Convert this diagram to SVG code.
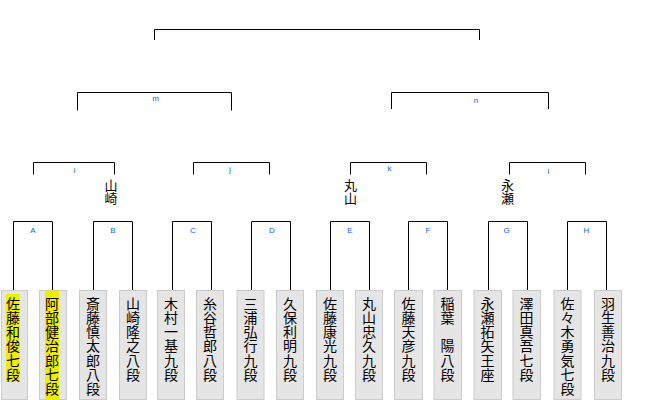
<svg xmlns="http://www.w3.org/2000/svg" width="660" height="400" viewBox="0 0 660 400">
<style>
.bg{fill:#ffffff}
.box{fill:#e5e5e5;stroke:#cccccc;stroke-width:1}
.hl{fill:#eeee00}
.name{font-family:"Noto Sans CJK JP","Noto Sans CJK SC",sans-serif;font-size:14px;fill:#000;text-anchor:middle}
.win{font-family:"Noto Sans CJK JP","Noto Sans CJK SC",sans-serif;font-size:13px;fill:#000;text-anchor:middle}
.lbl{font-family:"Liberation Sans",Arial,sans-serif;font-size:8px;fill:#0066ff;text-anchor:middle}
.ln{fill:none;stroke:#000;stroke-width:1}
</style>
<rect class="bg" x="0" y="0" width="660" height="400"/>
<g id="connectors">
<path class="ln" d="M13.5,290V221.5H52.5V290"/>
<path class="ln" d="M93.5,290V221.5H132.5V290"/>
<path class="ln" d="M172.5,290V221.5H211.5V290"/>
<path class="ln" d="M251.5,290V221.5H290.5V290"/>
<path class="ln" d="M330.5,290V221.5H369.5V290"/>
<path class="ln" d="M408.5,290V221.5H447.5V290"/>
<path class="ln" d="M488.5,290V221.5H527.5V290"/>
<path class="ln" d="M567.5,290V221.5H606.5V290"/>
<path class="ln" d="M33.5,174.5V162.5H114.5V174.5"/>
<path class="ln" d="M193.5,174.5V162.5H269.5V174.5"/>
<path class="ln" d="M350.5,174.5V162.5H426.5V174.5"/>
<path class="ln" d="M509.5,174.5V162.5H585.5V174.5"/>
<path class="ln" d="M77.5,110.5V92.5H231.5V110.5"/>
<path class="ln" d="M391.5,109V92.5H548.5V109"/>
<path class="ln" d="M154.5,40V29.5H479.5V40"/>
<text class="lbl" x="33" y="232.5">A</text>
<text class="lbl" x="113" y="232.5">B</text>
<text class="lbl" x="193" y="232.5">C</text>
<text class="lbl" x="272" y="232.5">D</text>
<text class="lbl" x="350" y="232.5">E</text>
<text class="lbl" x="428" y="232.5">F</text>
<text class="lbl" x="506.5" y="232.5">G</text>
<text class="lbl" x="586.5" y="232.5">H</text>
<text class="lbl" x="74.5" y="173">i</text>
<text class="lbl" x="230" y="172">j</text>
<text class="lbl" x="389.5" y="171">k</text>
<text class="lbl" x="548.5" y="173.5">l</text>
<text class="lbl" x="155.5" y="100.5">m</text>
<text class="lbl" x="476" y="102.5">n</text>
</g>
<g id="winner-i"><text class="win"><tspan x="111" y="189.5">山</tspan><tspan x="111" y="203">崎</tspan></text></g>
<g id="winner-k"><text class="win"><tspan x="350.5" y="189.5">丸</tspan><tspan x="350.5" y="203">山</tspan></text></g>
<g id="winner-l"><text class="win"><tspan x="507.5" y="189.5">永</tspan><tspan x="507.5" y="203">瀬</tspan></text></g>
<g id="p1"><rect class="box" x="1.5" y="290.5" width="26" height="109"/><rect class="hl" x="6" y="294" width="13.5" height="88"/>
<text class="name"><tspan x="13" y="308.5">佐</tspan><tspan x="13" dy="14.3">藤</tspan><tspan x="13" dy="14.3">和</tspan><tspan x="13" dy="14.3">俊</tspan><tspan x="13" dy="14.3">七</tspan><tspan x="13" dy="14.3">段</tspan></text></g>
<g id="p2"><rect class="box" x="39.5" y="290.5" width="27" height="109"/><rect class="hl" x="45" y="290.5" width="14" height="109"/>
<text class="name"><tspan x="52" y="308.5">阿</tspan><tspan x="52" dy="14.3">部</tspan><tspan x="52" dy="14.3">健</tspan><tspan x="52" dy="14.3">治</tspan><tspan x="52" dy="14.3">郎</tspan><tspan x="52" dy="14.3">七</tspan><tspan x="52" dy="14.3">段</tspan></text></g>
<g id="p3"><rect class="box" x="79.5" y="290.5" width="27" height="109"/>
<text class="name"><tspan x="93" y="308.5">斎</tspan><tspan x="93" dy="14.3">藤</tspan><tspan x="93" dy="14.3">慎</tspan><tspan x="93" dy="14.3">太</tspan><tspan x="93" dy="14.3">郎</tspan><tspan x="93" dy="14.3">八</tspan><tspan x="93" dy="14.3">段</tspan></text></g>
<g id="p4"><rect class="box" x="119.5" y="290.5" width="27" height="109"/>
<text class="name"><tspan x="133" y="308.5">山</tspan><tspan x="133" dy="14.3">崎</tspan><tspan x="133" dy="14.3">隆</tspan><tspan x="133" dy="14.3">之</tspan><tspan x="133" dy="14.3">八</tspan><tspan x="133" dy="14.3">段</tspan></text></g>
<g id="p5"><rect class="box" x="157.5" y="290.5" width="27" height="109"/>
<text class="name"><tspan x="171" y="308.5">木</tspan><tspan x="171" dy="14.3">村</tspan><tspan x="171" dy="14.3">一</tspan><tspan x="171" dy="14.3">基</tspan><tspan x="171" dy="14.3">九</tspan><tspan x="171" dy="14.3">段</tspan></text></g>
<g id="p6"><rect class="box" x="196.5" y="290.5" width="27" height="109"/>
<text class="name"><tspan x="210" y="308.5">糸</tspan><tspan x="210" dy="14.3">谷</tspan><tspan x="210" dy="14.3">哲</tspan><tspan x="210" dy="14.3">郎</tspan><tspan x="210" dy="14.3">八</tspan><tspan x="210" dy="14.3">段</tspan></text></g>
<g id="p7"><rect class="box" x="237" y="290.5" width="27" height="109"/>
<text class="name"><tspan x="250.5" y="308.5">三</tspan><tspan x="250.5" dy="14.3">浦</tspan><tspan x="250.5" dy="14.3">弘</tspan><tspan x="250.5" dy="14.3">行</tspan><tspan x="250.5" dy="14.3">九</tspan><tspan x="250.5" dy="14.3">段</tspan></text></g>
<g id="p8"><rect class="box" x="276.5" y="290.5" width="27" height="109"/>
<text class="name"><tspan x="290" y="308.5">久</tspan><tspan x="290" dy="14.3">保</tspan><tspan x="290" dy="14.3">利</tspan><tspan x="290" dy="14.3">明</tspan><tspan x="290" dy="14.3">九</tspan><tspan x="290" dy="14.3">段</tspan></text></g>
<g id="p9"><rect class="box" x="316.5" y="290.5" width="27" height="109"/>
<text class="name"><tspan x="330" y="308.5">佐</tspan><tspan x="330" dy="14.3">藤</tspan><tspan x="330" dy="14.3">康</tspan><tspan x="330" dy="14.3">光</tspan><tspan x="330" dy="14.3">九</tspan><tspan x="330" dy="14.3">段</tspan></text></g>
<g id="p10"><rect class="box" x="355.5" y="290.5" width="27" height="109"/>
<text class="name"><tspan x="369" y="308.5">丸</tspan><tspan x="369" dy="14.3">山</tspan><tspan x="369" dy="14.3">忠</tspan><tspan x="369" dy="14.3">久</tspan><tspan x="369" dy="14.3">九</tspan><tspan x="369" dy="14.3">段</tspan></text></g>
<g id="p11"><rect class="box" x="394.5" y="290.5" width="28" height="109"/>
<text class="name"><tspan x="408.5" y="308.5">佐</tspan><tspan x="408.5" dy="14.3">藤</tspan><tspan x="408.5" dy="14.3">天</tspan><tspan x="408.5" dy="14.3">彦</tspan><tspan x="408.5" dy="14.3">九</tspan><tspan x="408.5" dy="14.3">段</tspan></text></g>
<g id="p12"><rect class="box" x="434" y="290.5" width="27.5" height="109"/>
<text class="name"><tspan x="447.5" y="308.5">稲</tspan><tspan x="447.5" dy="14.3">葉</tspan><tspan x="447.5" dy="28.6">陽</tspan><tspan x="447.5" dy="14.3">八</tspan><tspan x="447.5" dy="14.3">段</tspan></text></g>
<g id="p13"><rect class="box" x="474" y="290.5" width="27.5" height="109"/>
<text class="name"><tspan x="487.5" y="308.5">永</tspan><tspan x="487.5" dy="14.3">瀬</tspan><tspan x="487.5" dy="14.3">拓</tspan><tspan x="487.5" dy="14.3">矢</tspan><tspan x="487.5" dy="14.3">王</tspan><tspan x="487.5" dy="14.3">座</tspan></text></g>
<g id="p14"><rect class="box" x="513" y="290.5" width="27.5" height="109"/>
<text class="name"><tspan x="526.5" y="308.5">澤</tspan><tspan x="526.5" dy="14.3">田</tspan><tspan x="526.5" dy="14.3">真</tspan><tspan x="526.5" dy="14.3">吾</tspan><tspan x="526.5" dy="14.3">七</tspan><tspan x="526.5" dy="14.3">段</tspan></text></g>
<g id="p15"><rect class="box" x="554" y="290.5" width="27" height="109"/>
<text class="name"><tspan x="567.5" y="308.5">佐</tspan><tspan x="567.5" dy="14.3">々</tspan><tspan x="567.5" dy="14.3">木</tspan><tspan x="567.5" dy="14.3">勇</tspan><tspan x="567.5" dy="14.3">気</tspan><tspan x="567.5" dy="14.3">七</tspan><tspan x="567.5" dy="14.3">段</tspan></text></g>
<g id="p16"><rect class="box" x="594.5" y="290.5" width="27" height="109"/>
<text class="name"><tspan x="608" y="308.5">羽</tspan><tspan x="608" dy="14.3">生</tspan><tspan x="608" dy="14.3">善</tspan><tspan x="608" dy="14.3">治</tspan><tspan x="608" dy="14.3">九</tspan><tspan x="608" dy="14.3">段</tspan></text></g>
</svg>
